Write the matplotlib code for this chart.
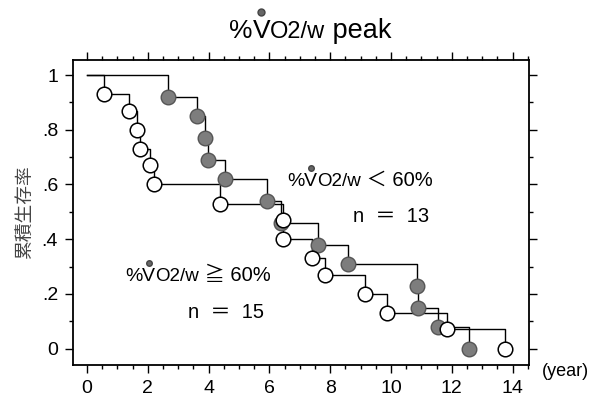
import matplotlib
matplotlib.use("Agg")
import matplotlib.pyplot as plt
from matplotlib.lines import Line2D
from matplotlib.ticker import MultipleLocator, FixedLocator, FixedFormatter

# Kaplan-Meier readings (time in years, cumulative survival after each event)
open_t = [0.56, 1.38, 1.64, 1.74, 2.07, 2.20, 4.39, 6.45, 6.46, 7.40, 7.84, 9.15, 9.86, 11.84, 13.74]
open_s = [0.93, 0.87, 0.80, 0.73, 0.67, 0.60, 0.53, 0.47, 0.40, 0.33, 0.27, 0.20, 0.13, 0.07, 0.0]

filled_t = [2.67, 3.61, 3.87, 3.99, 4.53, 5.92, 6.38, 7.61, 8.57, 10.84, 10.90, 11.55, 12.57]
filled_s = [0.92, 0.85, 0.77, 0.69, 0.62, 0.54, 0.46, 0.38, 0.31, 0.23, 0.15, 0.08, 0.0]

y_ticks = [0, 0.2, 0.4, 0.6, 0.8, 1.0]
y_labels = ['0', '.2', '.4', '.6', '.8', '1']
x_ticks = [0, 2, 4, 6, 8, 10, 12, 14]

FONT = ['Liberation Sans', 'Noto Sans CJK JP', 'DejaVu Sans']
NARROW = ['Liberation Sans Narrow', 'Liberation Sans']

W, H = 590, 398
fig = plt.figure(figsize=(W / 100, H / 100), dpi=100)
fig.patch.set_facecolor('white')

ax = fig.add_axes([72.7 / W, 1 - 365 / H, (529.3 - 72.7) / W, (365 - 59.5) / H])

# step curves + event markers
ax.step([0] + filled_t, [1.0] + filled_s, where='post', color='black', lw=1.0, zorder=2)
ax.step([0] + open_t, [1.0] + open_s, where='post', color='black', lw=1.0, zorder=2)
ax.plot(filled_t, filled_s, 'o', ms=10.5, mfc='#7d7d7d', mec='#555555', mew=1.0, zorder=3)
ax.plot(open_t, open_s, 'o', ms=10.5, mfc='white', mec='black', mew=1.1, zorder=4)

ax.set_xlim(-0.47, 14.55)
ax.set_ylim(-0.06, 1.057)

ax.xaxis.set_major_locator(FixedLocator(x_ticks))
ax.xaxis.set_minor_locator(MultipleLocator(0.5))
ax.yaxis.set_major_locator(FixedLocator(y_ticks))
ax.yaxis.set_major_formatter(FixedFormatter(y_labels))
ax.yaxis.set_minor_locator(MultipleLocator(0.1))

ax.tick_params(which='both', direction='out', top=True, right=True,
               labeltop=False, labelright=False, width=1.0)
ax.tick_params(which='major', length=5.5, labelsize=14, pad=5)
ax.tick_params(which='minor', length=3)
for lab in ax.get_xticklabels() + ax.get_yticklabels():
    lab.set_family(NARROW)
for sp in ax.spines.values():
    sp.set_linewidth(1.3)

ax.set_ylabel('累積生存率', family=['Noto Sans CJK JP'], fontsize=13.5, color='#444444', labelpad=5)
fig.text(542 / W, 1 - 376 / H, '(year)', family=FONT, fontsize=13, va='baseline', ha='left')

renderer = fig.canvas.get_renderer()


def rich_text(x, y, pieces, dot_ms, dot_gap):
    # lay text pieces side by side, pixel coords from top-left, dot above the V
    cur = x
    for s, size in pieces:
        t = fig.text(cur / W, 1 - y / H, s, family=FONT, fontsize=size,
                     va='baseline', ha='left')
        bb = t.get_window_extent(renderer)
        if s == 'V':
            cx = (bb.x0 + bb.x1) / 2 / W
            cy = (1 - y / H) + (size * 0.72 * 100 / 72 + dot_gap) / H
            fig.add_artist(Line2D([cx], [cy], marker='o', ms=dot_ms, color='#666666',
                                  mec='#444444', transform=fig.transFigure))
        cur += bb.width


rich_text(229, 38, [('%', 19), ('V', 19), ('O2/w', 17), (' peak', 19.5)], 5, 7)
rich_text(287, 186, [('%', 14), ('V', 14), ('O2/w', 13.5), (' ＜ 60%', 14.5)], 4, 4)
fig.text(353 / W, 1 - 222 / H, 'n  ＝  13', family=FONT, fontsize=14.5, va='baseline', ha='left')
rich_text(125, 281, [('%', 14), ('V', 14), ('O2/w', 13.5), (' ≧ 60%', 14.5)], 4, 4)
fig.text(188 / W, 1 - 318 / H, 'n  ＝  15', family=FONT, fontsize=14.5, va='baseline', ha='left')

fig.savefig('out.png', dpi=100)
